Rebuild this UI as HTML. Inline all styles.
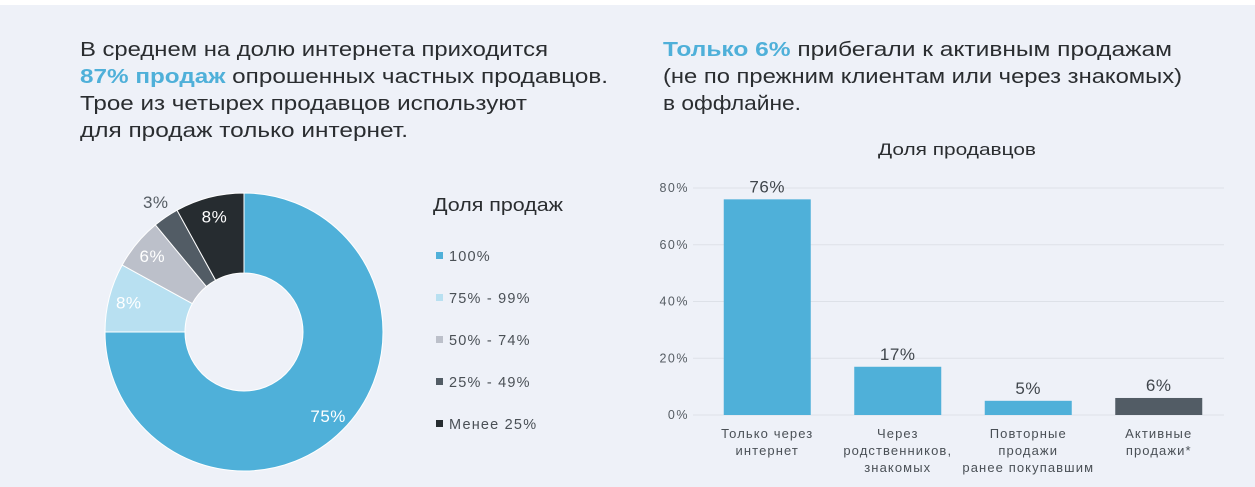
<!DOCTYPE html>
<html><head><meta charset="utf-8"><style>
body{margin:0;background:#eef1f8;font-family:"Liberation Sans",sans-serif;}
svg{display:block}
</style></head><body>
<svg width="1255" height="487" viewBox="0 0 1255 487" font-family="Liberation Sans, sans-serif">
<rect x="0" y="0" width="1255" height="487" fill="#eef1f8"/>
<rect x="0" y="0" width="1255" height="5" fill="#ffffff"/>
<g font-size="20" fill="#2a2d30">
<text x="80" y="56" textLength="468" lengthAdjust="spacingAndGlyphs">В среднем на долю интернета приходится</text>
<text x="80" y="83" textLength="528" lengthAdjust="spacingAndGlyphs"><tspan fill="#4fb0d9" font-weight="bold">87% продаж</tspan> опрошенных частных продавцов.</text>
<text x="80" y="110" textLength="447" lengthAdjust="spacingAndGlyphs">Трое из четырех продавцов используют</text>
<text x="80" y="137" textLength="328" lengthAdjust="spacingAndGlyphs">для продаж только интернет.</text>
</g>
<g font-size="20" fill="#2a2d30">
<text x="663" y="56" textLength="509" lengthAdjust="spacingAndGlyphs"><tspan fill="#4fb0d9" font-weight="bold">Только 6%</tspan> прибегали к активным продажам</text>
<text x="663" y="83" textLength="519" lengthAdjust="spacingAndGlyphs">(не по прежним клиентам или через знакомых)</text>
<text x="663" y="110" textLength="138" lengthAdjust="spacingAndGlyphs">в оффлайне.</text>
</g>
<g id="donut"></g>
<g>
<text x="433" y="211" font-size="18" fill="#2a2d30" textLength="130" lengthAdjust="spacingAndGlyphs">Доля продаж</text>
<g id="legend"></g>
</g>
<text x="878" y="155" font-size="17" fill="#2a2d30" textLength="158" lengthAdjust="spacingAndGlyphs">Доля продавцов</text>
<g id="bars"></g>
</svg>
<script>
const sliceLabels=['100%','75% - 99%','50% - 74%','25% - 49%','Менее 25%'];
const sliceValues=[75,8,6,3,8];
const sliceColors=['#4fb0d9','#b8e0f1','#bcc0ca','#525c65','#262c30'];
const barCategories=[['Только через','интернет'],['Через','родственников,','знакомых'],['Повторные','продажи','ранее покупавшим'],['Активные','продажи*']];
const barValues=[76,17,5,6];
const barColors=['#4fb0d9','#4fb0d9','#4fb0d9','#525c65'];
const yTicks=[0,20,40,60,80];
const NS='http://www.w3.org/2000/svg';
function mk(t,a,p){const e=document.createElementNS(NS,t);for(const k in a)e.setAttribute(k,a[k]);p.appendChild(e);return e;}
const cx=244,cy=332,R=139,r=59;
const dg=document.getElementById('donut');
const total=sliceValues.reduce((a,b)=>a+b,0);
let acc=0;
function pt(rad,f){const a=f*2*Math.PI-Math.PI/2;return [cx+rad*Math.cos(a),cy+rad*Math.sin(a)];}
sliceValues.forEach((v,i)=>{
 const f0=acc/total,f1=(acc+v)/total;acc+=v;
 const [x0,y0]=pt(R,f0),[x1,y1]=pt(R,f1),[x2,y2]=pt(r,f1),[x3,y3]=pt(r,f0);
 const lg=(f1-f0)>0.5?1:0;
 const p=mk('path',{d:`M${x0},${y0}A${R},${R} 0 ${lg} 1 ${x1},${y1}L${x2},${y2}A${r},${r} 0 ${lg} 0 ${x3},${y3}Z`,fill:sliceColors[i],stroke:'#ffffff','stroke-width':1},dg);
 
 
 const fm=(f0+f1)/2;
 let lr=119, col='#ffffff';
 if(v<5){lr=R+18;col='#555c63';}
 const [lx,ly]=pt(lr,fm);
 const t=mk('text',{x:lx,y:ly+6,'text-anchor':'middle','font-size':17,'letter-spacing':0.5,fill:col},dg);
 t.textContent=v+'%';
 
 
});
const lgEl=document.getElementById('legend');
sliceLabels.forEach((s,i)=>{
 const y=256+i*42;
 const sq=mk('rect',{x:436,y:y-4,width:7,height:7,fill:sliceColors[i]},lgEl);
 
 
 const t=mk('text',{x:449,y:y+5,'font-size':14.5,'letter-spacing':1.2,fill:'#4a5056'},lgEl);
 t.textContent=s;
 
 
});
const bg=document.getElementById('bars');
const x0=702,band=130.5,bw=87,yBase=415,yTop=188,yMax=80;
const yS=v=>yBase-(v/yMax)*(yBase-yTop);
yTicks.forEach(v=>{
 const l=mk('line',{x1:693,x2:1224,y1:yS(v),y2:yS(v),stroke:'#dde1e8','stroke-width':1},bg);
 
 
 const t=mk('text',{x:689,y:yS(v)+4,'text-anchor':'end','font-size':12.5,'letter-spacing':1.5,fill:'#555c63'},bg);
 t.textContent=v+'%';
 
 
});
barValues.forEach((v,i)=>{
 const bx=x0+i*band+(band-bw)/2, c=bx+bw/2;
 const b=mk('rect',{x:bx,y:yS(v),width:bw,height:yBase-yS(v),fill:barColors[i]},bg);
 
 
 const t=mk('text',{x:c,y:yS(v)-7,'text-anchor':'middle','font-size':17,'letter-spacing':0.6,fill:'#40464c'},bg);
 t.textContent=v+'%';
 
 
 barCategories[i].forEach((ln,j)=>{
  const ct=mk('text',{x:c,y:438+j*17,'text-anchor':'middle','font-size':13,'letter-spacing':1.1,fill:'#4a5056'},bg);
  ct.textContent=ln;
  
  
 });
});
</script>
</body></html>
